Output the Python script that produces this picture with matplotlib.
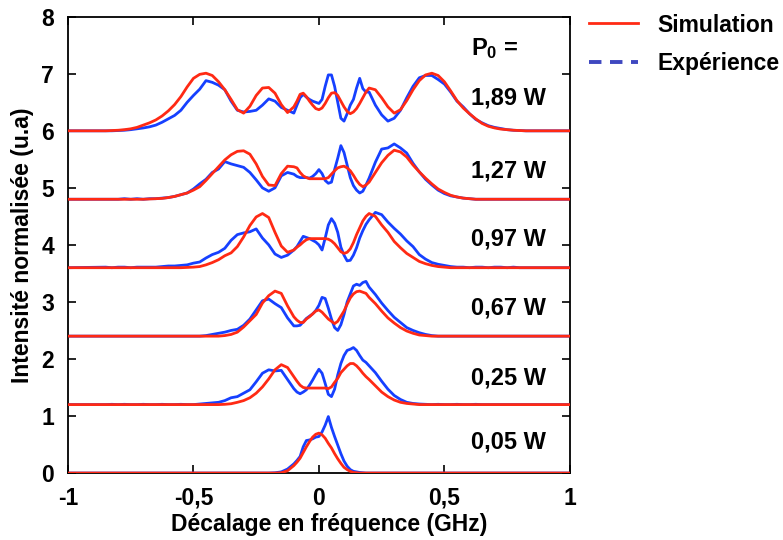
import matplotlib
matplotlib.use('Agg')
import matplotlib.pyplot as plt
from matplotlib.lines import Line2D
import numpy as np

plt.rcParams['font.family'] = ['Liberation Sans', 'DejaVu Sans']
plt.rcParams['font.weight'] = 'bold'
plt.rcParams['mathtext.fontset'] = 'custom'
plt.rcParams['mathtext.rm'] = 'Liberation Sans:bold'
plt.rcParams['mathtext.bf'] = 'Liberation Sans:bold'
plt.rcParams['mathtext.default'] = 'bf'

# frequency grid (GHz): 0.025 steps, 0.0125 steps in the centre
freq = np.concatenate([np.arange(-0.85, -0.12, 0.025),
                       np.arange(-0.1, 0.2001, 0.0125),
                       np.arange(0.225, 0.851, 0.025)])

powers = ['1,89 W', '1,27 W', '0,97 W', '0,67 W', '0,25 W', '0,05 W']
offsets = [6.0, 4.8, 3.6, 2.4, 1.2, 0.0]

# simulation (red), height above each baseline
sim_189 = [0, 0.005, 0.01, 0.02, 0.035, 0.06, 0.10, 0.14, 0.19, 0.26,
           0.35, 0.46, 0.60, 0.77, 0.92, 0.99, 1.01, 0.97, 0.86, 0.72,
           0.55, 0.37, 0.31, 0.43, 0.62, 0.75, 0.76, 0.66, 0.46, 0.32,
           0.42, 0.52, 0.64, 0.66, 0.60, 0.52, 0.45, 0.39, 0.37, 0.40, 0.48, 0.58, 0.66,
           0.67, 0.62, 0.52, 0.42, 0.34, 0.30, 0.33, 0.39, 0.48, 0.58, 0.68, 0.75,
           0.72, 0.58, 0.42, 0.31, 0.37, 0.53, 0.72, 0.88, 0.98, 1.01,
           0.97, 0.86, 0.70, 0.53, 0.40, 0.30, 0.21, 0.13, 0.08, 0.05,
           0.03, 0.02, 0.01, 0.005, 0, 0]
sim_127 = [0, 0, 0, 0, 0, 0, 0, 0.005, 0.01, 0.015,
           0.03, 0.05, 0.08, 0.11, 0.16, 0.22, 0.33, 0.45, 0.57, 0.69,
           0.78, 0.84, 0.85, 0.79, 0.62, 0.40, 0.25, 0.24, 0.45, 0.58,
           0.57, 0.55, 0.47, 0.41, 0.38, 0.36, 0.36, 0.36, 0.36, 0.36, 0.36, 0.38, 0.44,
           0.50, 0.55, 0.57, 0.58, 0.55, 0.50, 0.42, 0.33, 0.26, 0.22, 0.25, 0.30,
           0.47, 0.64, 0.77, 0.86, 0.83, 0.74, 0.60, 0.48, 0.37, 0.27,
           0.18, 0.12, 0.07, 0.04, 0.02, 0.01, 0, 0, 0, 0,
           0, 0, 0, 0, 0, 0]
sim_097 = [0, 0, 0, 0, 0, 0, 0, 0, 0, 0,
           0, 0, 0, 0.005, 0.01, 0.02, 0.05, 0.09, 0.14, 0.21,
           0.26, 0.37, 0.54, 0.74, 0.89, 0.95, 0.88, 0.62, 0.38, 0.27,
           0.31, 0.36, 0.40, 0.45, 0.49, 0.51, 0.51, 0.51, 0.51, 0.51, 0.51, 0.50, 0.47,
           0.42, 0.35, 0.28, 0.25, 0.27, 0.33, 0.44, 0.58, 0.70, 0.82, 0.90, 0.95,
           0.90, 0.75, 0.62, 0.46, 0.35, 0.25, 0.18, 0.11, 0.07, 0.04,
           0.02, 0.01, 0, 0, 0, 0, 0, 0, 0, 0,
           0, 0, 0, 0, 0, 0]
sim_067 = [0, 0, 0, 0, 0, 0, 0, 0, 0, 0,
           0, 0, 0, 0, 0, 0, 0, 0, 0, 0.01,
           0.03, 0.07, 0.16, 0.27, 0.38, 0.58, 0.71, 0.79, 0.75, 0.53,
           0.34, 0.28, 0.24, 0.24, 0.30, 0.34, 0.39, 0.44, 0.46, 0.42, 0.36, 0.30, 0.26,
           0.22, 0.26, 0.35, 0.44, 0.56, 0.67, 0.74, 0.78, 0.79, 0.77, 0.75, 0.68,
           0.57, 0.44, 0.32, 0.23, 0.15, 0.09, 0.05, 0.02, 0.01, 0,
           0, 0, 0, 0, 0, 0, 0, 0, 0, 0,
           0, 0, 0, 0, 0, 0]
sim_025 = [0, 0, 0, 0, 0, 0, 0, 0, 0, 0,
           0, 0, 0, 0, 0, 0, 0, 0, 0, 0.005,
           0.015, 0.04, 0.07, 0.12, 0.20, 0.31, 0.45, 0.61, 0.70, 0.65,
           0.49, 0.41, 0.34, 0.30, 0.29, 0.29, 0.29, 0.29, 0.29, 0.29, 0.29, 0.28, 0.31,
           0.39, 0.46, 0.56, 0.62, 0.68, 0.72, 0.72, 0.68, 0.62, 0.55, 0.49, 0.44,
           0.33, 0.22, 0.14, 0.08, 0.04, 0.02, 0.01, 0, 0, 0,
           0, 0, 0, 0, 0, 0, 0, 0, 0, 0,
           0, 0, 0, 0, 0, 0]
sim_005 = [0, 0, 0, 0, 0, 0, 0, 0, 0, 0,
           0, 0, 0, 0, 0, 0, 0, 0, 0, 0,
           0, 0, 0, 0, 0, 0, 0, 0, 0.005, 0.04,
           0.13, 0.19, 0.26, 0.36, 0.46, 0.55, 0.63, 0.68, 0.70, 0.67, 0.61, 0.52, 0.44,
           0.34, 0.25, 0.17, 0.10, 0.06, 0.03, 0.01, 0.005, 0, 0, 0, 0,
           0, 0, 0, 0, 0, 0, 0, 0, 0, 0,
           0, 0, 0, 0, 0, 0, 0, 0, 0, 0,
           0, 0, 0, 0, 0, 0]

# experiment (blue)
exp_189 = [0, 0, 0.005, 0.01, 0.02, 0.035, 0.05, 0.07, 0.10, 0.15,
           0.21, 0.27, 0.36, 0.50, 0.62, 0.73, 0.88, 0.85, 0.80, 0.72,
           0.52, 0.36, 0.33, 0.34, 0.36, 0.45, 0.56, 0.52, 0.41, 0.36,
           0.31, 0.45, 0.58, 0.64, 0.59, 0.55, 0.52, 0.50, 0.48, 0.55, 0.78, 0.98, 0.98,
           0.78, 0.50, 0.22, 0.17, 0.30, 0.45, 0.55, 0.75, 0.92, 0.74, 0.68, 0.68,
           0.45, 0.28, 0.17, 0.22, 0.36, 0.58, 0.78, 0.93, 0.97, 0.97,
           0.90, 0.82, 0.68, 0.52, 0.42, 0.30, 0.20, 0.14, 0.09, 0.06,
           0.04, 0.02, 0.01, 0.005, 0, 0]
exp_127 = [0, 0, 0, 0.01, 0, 0.01, 0, 0.01, 0.01, 0.02,
           0.03, 0.05, 0.08, 0.11, 0.18, 0.27, 0.35, 0.47, 0.53, 0.66,
           0.62, 0.59, 0.56, 0.47, 0.34, 0.20, 0.14, 0.20, 0.41, 0.47,
           0.44, 0.40, 0.38, 0.38, 0.38, 0.37, 0.40, 0.45, 0.52, 0.45, 0.33, 0.28, 0.30,
           0.52, 0.72, 0.94, 0.82, 0.60, 0.38, 0.24, 0.16, 0.11, 0.14, 0.25, 0.37,
           0.65, 0.88, 0.90, 0.97, 0.90, 0.81, 0.63, 0.48, 0.35, 0.25,
           0.16, 0.10, 0.06, 0.04, 0.02, 0.01, 0, 0, 0, 0,
           0, 0, 0, 0, 0, 0]
exp_097 = [0.01, 0, 0.01, 0.01, 0, 0.01, 0.01, 0.01, 0.01, 0.02,
           0.03, 0.03, 0.04, 0.05, 0.08, 0.10, 0.17, 0.23, 0.27, 0.34,
           0.48, 0.58, 0.61, 0.63, 0.68, 0.52, 0.40, 0.24, 0.18, 0.22,
           0.31, 0.37, 0.46, 0.55, 0.53, 0.51, 0.48, 0.45, 0.40, 0.31, 0.52, 0.75, 0.86,
           0.78, 0.62, 0.36, 0.22, 0.12, 0.13, 0.22, 0.35, 0.52, 0.65, 0.76, 0.84,
           0.97, 0.93, 0.80, 0.69, 0.59, 0.47, 0.37, 0.23, 0.15, 0.09,
           0.06, 0.04, 0.02, 0.01, 0.01, 0, 0.01, 0.01, 0, 0.01,
           0.01, 0, 0.01, 0, 0, 0]
exp_067 = [0, 0, 0, 0, 0, 0, 0, 0, 0, 0,
           0, 0, 0, 0, 0, 0, 0.01, 0.03, 0.05, 0.07,
           0.10, 0.12, 0.19, 0.30, 0.46, 0.62, 0.65, 0.57, 0.50, 0.32,
           0.18, 0.18, 0.19, 0.25, 0.31, 0.35, 0.39, 0.45, 0.54, 0.68, 0.66, 0.49, 0.30,
           0.15, 0.10, 0.20, 0.38, 0.60, 0.74, 0.88, 0.91, 0.89, 0.94, 0.96, 0.86,
           0.73, 0.58, 0.45, 0.33, 0.24, 0.15, 0.10, 0.06, 0.03, 0.01,
           0, 0, 0, 0, 0, 0, 0, 0, 0, 0,
           0, 0, 0, 0, 0, 0]
exp_025 = [0, 0.005, 0, 0.005, 0, 0, 0.005, 0, 0, 0.005,
           0, 0, 0.005, 0, 0, 0.01, 0.02, 0.03, 0.04, 0.07,
           0.12, 0.14, 0.20, 0.26, 0.40, 0.55, 0.61, 0.59, 0.60, 0.44,
           0.28, 0.22, 0.19, 0.22, 0.26, 0.34, 0.43, 0.53, 0.62, 0.55, 0.37, 0.18, 0.14,
           0.27, 0.52, 0.72, 0.86, 0.95, 0.97, 1.00, 0.95, 0.86, 0.78, 0.74, 0.68,
           0.56, 0.41, 0.27, 0.16, 0.09, 0.04, 0.02, 0.01, 0.005, 0,
           0.005, 0, 0, 0.005, 0, 0, 0.005, 0, 0, 0,
           0, 0, 0, 0, 0, 0]
exp_005 = [0, 0, 0, 0, 0, 0, 0, 0, 0, 0,
           0, 0, 0, 0, 0, 0, 0, 0, 0, 0,
           0, 0, 0, 0, 0, 0, 0, 0.005, 0.02, 0.07,
           0.16, 0.22, 0.29, 0.46, 0.57, 0.58, 0.60, 0.63, 0.64, 0.72, 0.84, 0.99, 0.80,
           0.64, 0.49, 0.34, 0.21, 0.12, 0.06, 0.03, 0.02, 0.01, 0.005, 0, 0,
           0, 0, 0, 0, 0, 0, 0, 0, 0, 0,
           0, 0, 0, 0, 0, 0, 0, 0, 0, 0,
           0, 0, 0, 0, 0, 0]

simulation = [sim_189, sim_127, sim_097, sim_067, sim_025, sim_005]
experience = [exp_189, exp_127, exp_097, exp_067, exp_025, exp_005]

red = '#ff2a14'
blue = '#1640ff'

fig = plt.figure(figsize=(7.83, 5.40), dpi=100)
ax = fig.add_axes([0.0868, 0.124, 0.641, 0.845])

x_full = np.concatenate([[-1.0], freq, [1.0]])
for off, sim, exp in zip(offsets, simulation, experience):
    assert len(sim) == len(freq) and len(exp) == len(freq)
    ax.plot(x_full, np.concatenate([[0], exp, [0]]) + off, color=blue, lw=2.0, zorder=2)
    ax.plot(x_full, np.concatenate([[0], sim, [0]]) + off, color=red, lw=2.0, zorder=3)

# power labels
label_y = [6.58, 5.30, 4.11, 2.90, 1.66, 0.54]
for ly, p in zip(label_y, powers):
    ax.text(0.605, ly, p, fontsize=17, fontweight='bold', va='center', ha='left')
ax.text(0.605, 7.44, 'P$_0$ =', fontsize=17, fontweight='bold', va='center', ha='left')

ax.set_xlim(-1, 1)
ax.set_ylim(0, 8)
ax.set_xticks([-1, -0.5, 0, 0.5, 1])
ax.set_xticklabels(['-1', '-0,5', '0', '0,5', '1'])
ax.set_yticks(range(9))
ax.tick_params(direction='in', length=6, width=1.2, labelsize=16.5, pad=10,
               top=True, right=True)
for sp in ax.spines.values():
    sp.set_linewidth(1.3)
ax.set_xlabel('Décalage en fréquence (GHz)', fontsize=16.5, fontweight='bold', labelpad=2)
ax.xaxis.label.set_x(0.52)
ax.set_ylabel('Intensité normalisée (u.a)', fontsize=16.5, fontweight='bold', labelpad=5)

handles = [Line2D([], [], color=red, lw=2.0),
           Line2D([], [], color='#3f48c0', lw=2.8, dashes=(3.2, 2.2))]
fig.legend(handles, ['Simulation', 'Expérience'], loc='upper left',
           bbox_to_anchor=(0.752, 0.975), frameon=False, fontsize=16.5,
           handlelength=2.15, handletextpad=0.85, labelspacing=0.68,
           borderpad=0, borderaxespad=0)

fig.savefig('out.png', dpi=100)
